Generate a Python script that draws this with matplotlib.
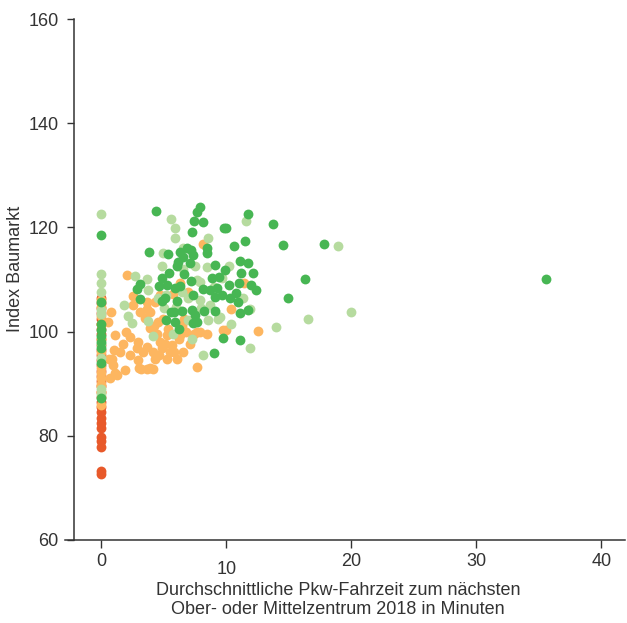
import matplotlib
matplotlib.use("Agg")
import matplotlib.pyplot as plt
from matplotlib import font_manager

# ---------------- data ----------------
# dark orange group (all at 0 minutes)
do_x = [0]*31
do_y = [106.5, 105.5, 104.5, 103.5, 102.5, 101.5, 100.5, 99.5, 98.5, 97.5, 96.5,
        95.5, 94.5, 93.5, 92.5, 91.5, 90.5, 89.5, 88.5, 87.5, 86.5, 85.5, 84.5,
        83.5, 82.5, 81.5, 79.8, 79.0, 77.8, 73.2, 72.7]

# light orange group
lo_x = [0, 0, 0, 0, 0, 0, 0, 0, 0, 0, 0, 0, 0,
        0.5, 1.0, 0.6, 1.1,
        2.01, 8.15, 0.73, 2.55, 2.55, 3.61, 3.88, 4.28, 3.48, 4.55, 4.95, 6.28,
        6.95, 1.08, 1.75, 2.28, 2.95, 3.61, 2.81, 3.88, 4.41, 5.21, 5.08, 5.61,
        4.81, 6.01, 5.21, 4.28, 3.61, 4.15, 2.95, 1.88, 0.95, 0.81, 1.21, 0.68,
        6.55, 7.08, 7.61, 7.88, 8.41, 9.75, 7.61, 6.41, 4.68, 5.75,
        3.2, 4.7, 4.15, 3.35, 5.5, 6.3, 6.8, 3.61, 3.08,
        2.3, 3.0, 3.9, 4.6, 5.8, 6.2, 4.2, 2.0, 1.5, 5.3, 7.4, 6.6,
        11.4, 10.4, 9.96, 12.5]
lo_y = [106.0, 104.8, 103.0, 101.5, 98.5, 96.0, 93.0, 92.0, 91.0, 90.0, 89.5, 88.5, 86.0,
        101.8, 96.5, 94.7, 92.0,
        110.8, 116.9, 103.7, 106.9, 105.1, 104.4, 103.8, 105.7, 102.6, 101.9, 102.5, 109.4,
        107.6, 99.3, 97.7, 99.0, 98.0, 97.1, 96.8, 100.6, 99.6, 99.3, 97.7, 97.4,
        96.8, 94.8, 94.8, 94.8, 92.9, 92.9, 94.5, 92.6, 93.6, 94.8, 91.6, 91.0,
        96.1, 97.7, 100.0, 100.0, 99.6, 100.3, 93.2, 101.0, 107.0, 107.3,
        92.9, 98.0, 96.1, 96.1, 96.1, 99.3, 100.0, 105.7, 103.8,
        95.5, 93.0, 93.0, 95.5, 96.0, 98.5, 101.0, 100.0, 96.0, 100.5, 99.5, 102.5,
        109.4, 104.4, 100.3, 100.1]

# light green group
lg_x = [0, 0, 0, 0, 0, 0, 0, 0, 0, 0,
        5.53, 5.88, 5.88, 8.55, 4.89, 6.55, 4.81, 8.41, 6.55, 2.68, 3.61, 3.75,
        7.61, 9.61, 6.41, 6.95, 7.88, 1.8, 2.15, 2.47, 3.75, 6.95, 8.55, 9.35,
        7.21, 4.15, 5.75, 8.15, 5.2, 7.9, 8.7,
        5.0, 6.0, 8.0, 4.5, 7.5, 9.0,
        11.6, 18.9, 10.2, 11.3, 11.9, 9.48, 10.4, 14.0, 16.5, 11.9, 20.0]
lg_y = [122.5, 111.0, 109.3, 107.6, 104.1, 103.3, 97.7, 95.0, 89.0, 88.0,
        121.6, 119.8, 117.9, 117.9, 115.0, 116.0, 112.6, 112.4, 112.0, 110.7, 110.1, 108.0,
        109.9, 110.2, 107.6, 106.4, 106.0, 105.2, 103.0, 101.6, 102.0, 102.2, 102.2, 102.5,
        98.6, 99.1, 99.6, 95.5, 107.0, 109.6, 105.1,
        104.5, 104.8, 104.5, 106.5, 112.5, 108.5,
        121.2, 116.5, 112.6, 106.4, 104.4, 102.8, 101.4, 100.9, 102.4, 96.8, 103.8]

# dark green group
dg_x = [0, 0, 0, 0, 0, 0, 0, 0, 0,
        4.36, 7.88, 7.67, 7.4, 8.09, 7.21, 3.83, 5.35, 6.28, 6.87, 7.13, 7.35, 6.55,
        6.15, 6.07, 7.08, 8.41, 8.47, 9.08, 9.8, 5.43, 4.81, 6.6, 7.13, 8.81, 9.43,
        3.08, 2.81, 4.63, 5.21, 5.88, 6.28, 8.15, 8.68, 9.21, 3.08, 4.81, 5.08, 6.01,
        7.35, 9.08, 9.61, 5.53, 5.8, 6.41, 7.21, 7.48, 8.2, 9.08, 5.16, 5.88, 7.35,
        7.61, 6.23, 9.75, 9.0,
        11.7, 9.96, 13.7, 11.5, 10.6, 14.5, 17.8, 11.1, 11.7, 9.88, 11.2, 12.1, 16.3,
        10.2, 11.0, 12.0, 12.4, 10.8, 10.3, 14.9, 10.9, 11.7, 11.1, 11.1, 35.6]
dg_y = [118.6, 105.6, 101.5, 100.3, 99.2, 98.0, 96.8, 94.0, 87.3,
        123.2, 124.0, 122.9, 121.3, 121.0, 119.2, 115.2, 114.9, 115.3, 116.1, 115.6, 114.7, 114.4,
        113.4, 112.6, 113.1, 116.1, 115.0, 112.8, 119.8, 111.2, 110.3, 111.0, 109.7, 110.3, 110.5,
        109.2, 108.2, 108.8, 109.0, 108.3, 108.8, 108.2, 108.0, 108.3, 106.2, 105.8, 106.4, 105.8,
        107.0, 106.7, 107.0, 103.8, 103.7, 103.9, 104.1, 103.2, 103.9, 103.9, 102.2, 101.9, 101.6,
        101.8, 100.5, 98.8, 95.8,
        122.5, 119.8, 120.6, 117.4, 116.4, 116.6, 116.9, 113.5, 113.1, 111.8, 111.2, 111.3, 110.0,
        108.9, 109.4, 108.9, 108.0, 107.5, 106.4, 106.4, 105.6, 104.1, 103.5, 98.3, 110.1]

x_ticks = [0, 10, 20, 30, 40]
y_ticks = [60, 80, 100, 120, 140, 160]
x_label = "Durchschnittliche Pkw-Fahrzeit zum nächsten\nOber- oder Mittelzentrum 2018 in Minuten"
y_label = "Index Baumarkt"

# ---------------- style ----------------
names = {f.name for f in font_manager.fontManager.ttflist}
fam = ["Liberation Sans Narrow", "DejaVu Sans"] if "Liberation Sans Narrow" in names else ["Liberation Sans", "DejaVu Sans"]
plt.rcParams["font.family"] = fam

txt = "#333333"
c_do, c_lo, c_lg, c_dg = "#E8592A", "#FDB660", "#B6DB9F", "#47B653"

fig = plt.figure(figsize=(6.27, 6.23), dpi=100)
ax = fig.add_axes([65/627, (623-540)/623, (625-65)/627, (540-19)/623])

s = 50
ax.scatter(do_x, do_y, s=s, c=c_do, linewidths=0, zorder=2)
ax.scatter(lo_x, lo_y, s=s, c=c_lo, linewidths=0, zorder=3)
ax.scatter(lg_x, lg_y, s=s, c=c_lg, linewidths=0, zorder=4)
ax.scatter(dg_x, dg_y, s=s, c=c_dg, linewidths=0, zorder=5)

ax.set_xlim(-2.92, 41.9)
ax.set_ylim(60, 160)
ax.spines["top"].set_visible(False)
ax.spines["right"].set_visible(False)
ax.spines["left"].set_position(("data", -2.2))
for sp in ("left", "bottom"):
    ax.spines[sp].set_color(txt)
    ax.spines[sp].set_linewidth(1.1)

ax.set_xticks(x_ticks)
ax.set_yticks(y_ticks)
ax.tick_params(axis="both", direction="out", colors=txt, labelsize=13, width=1.0)
ax.tick_params(axis="x", length=6, pad=3)
ax.tick_params(axis="y", length=5, pad=6)
ax.xaxis.get_major_ticks()[1].set_pad(9)

ax.set_ylabel(y_label, fontsize=13, color=txt)
ax.yaxis.set_label_coords(-0.073, 0.52)
fig.text(338/627, 1 - 600/623, x_label, ha="center", va="center",
         fontsize=13, color=txt, linespacing=1.15, multialignment="center")

fig.savefig("out.png", dpi=100)
